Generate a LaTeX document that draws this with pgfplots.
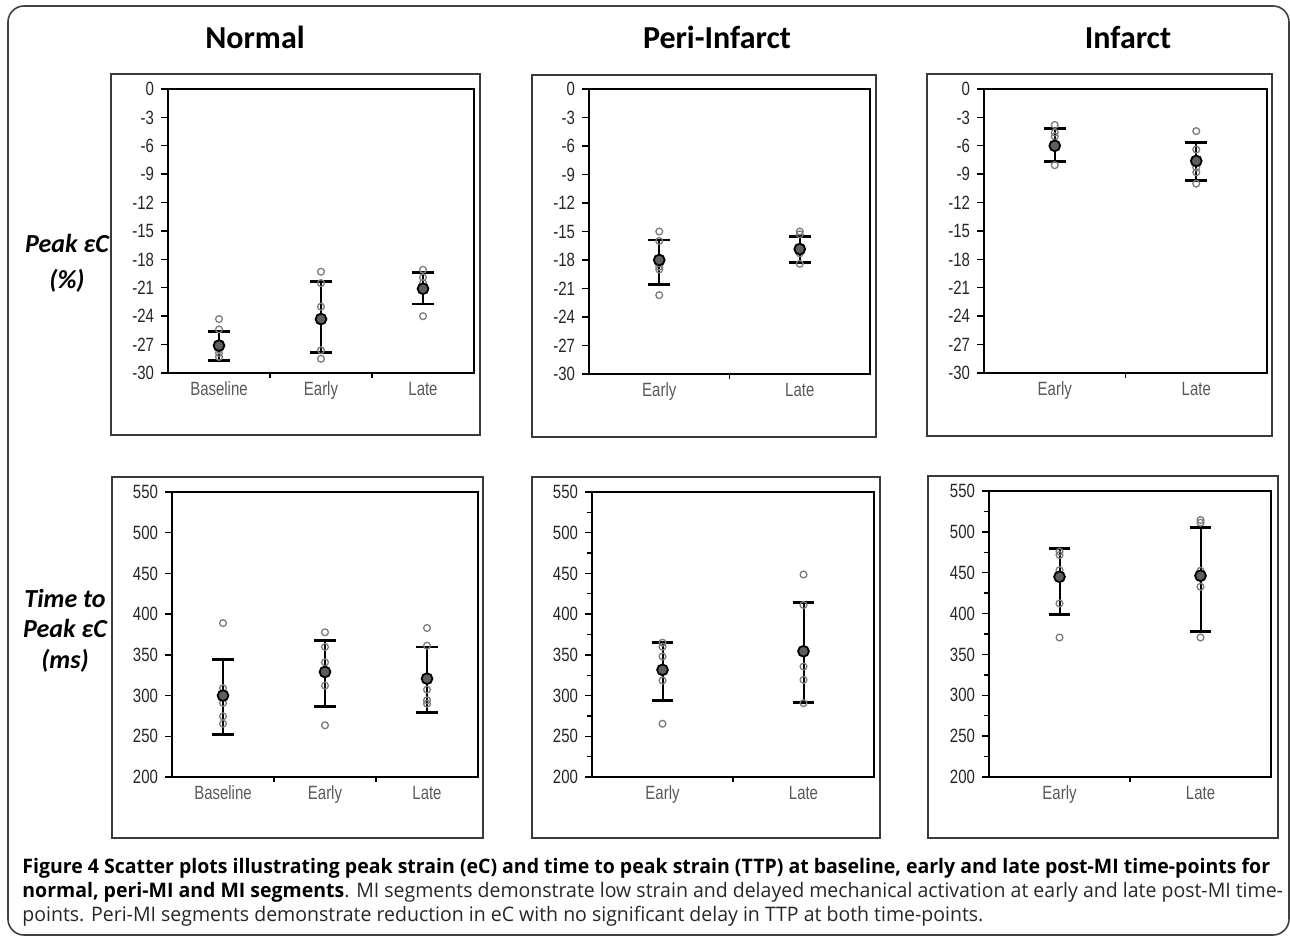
\documentclass[border=0pt]{standalone}
\usepackage{fontspec}
\usepackage{pgfplots}
\pgfplotsset{compat=1.18}
\setmainfont{Open Sans}
\newfontfamily\capfont[FakeStretch=0.975]{Open Sans}
\newfontfamily\headfont{Carlito}
\newfontfamily\tickfont[FakeStretch=0.78]{Liberation Sans}

\definecolor{meanfill}{HTML}{5E5E5E}
\definecolor{ptgray}{HTML}{7C7C7C}
\definecolor{framegray}{HTML}{3A3A3A}

\pgfplotsset{
  panel/.style={
    scale only axis, anchor=south west,
    axis line style={line width=0.75pt, black},
    tick align=outside, xtick pos=bottom, ytick pos=left,
    major tick length=3.5pt, minor tick length=2.5pt,
    tick style={black, line width=0.7pt},
    major x tick style={draw=none},
    ticklabel style={font=\tickfont\fontsize{9.6}{10}\selectfont, text=black!85},
    xticklabel style={text=black!65, yshift=2.5pt},
    /pgf/number format/assume math mode=true,
  },
  strain/.style={ymin=-30, ymax=0, ytick={-30,-27,...,0}},
  ttp/.style={ymin=200, ymax=550, ytick={200,250,...,550}},
  three/.style={xmin=-0.5, xmax=2.5, xtick={0,1,2},
    xticklabels={Baseline,Early,Late}, minor xtick={0.5,1.5}},
  two/.style={xmin=-0.5, xmax=1.5, xtick={0,1},
    xticklabels={Early,Late}, minor xtick={0.5}},
  ebar/.style={only marks, mark=none, black,
    error bars/.cd, y dir=both, y explicit,
    error bar style={line width=1pt, black},
    error mark options={rotate=90, line width=1.35pt, mark size=5.4pt, black}},
  pts/.style={only marks, mark=o, mark size=1.7pt,
    mark options={draw=ptgray, line width=0.65pt}},
  mean/.style={only marks, mark=*, mark size=2.7pt,
    mark options={fill=meanfill, draw=black, line width=0.9pt}},
}

\begin{document}
\begin{tikzpicture}[x=0.5pt, y=0.5pt]
\path[use as bounding box] (0,0) rectangle (1290,938);
\draw[black!75, line width=0.8pt, rounded corners=8pt] (8,3) rectangle (1289,932);

% panel frames
\begin{scope}[framegray, line width=0.75pt]
\draw (111,503) rectangle (480,864);
\draw (532,501) rectangle (876,863);
\draw (927,502) rectangle (1272,864);
\draw (112,100) rectangle (483,461);
\draw (532,100) rectangle (880,461);
\draw (928,100) rectangle (1278,462);
\end{scope}

% column titles
\node[anchor=base, font=\headfont\bfseries\fontsize{16}{18}\selectfont] at (255,889) {Normal};
\node[anchor=base, font=\headfont\bfseries\fontsize{16}{18}\selectfont] at (717,889) {Peri-Infarct};
\node[anchor=base, font=\headfont\bfseries\fontsize{16}{18}\selectfont] at (1128,889) {Infarct};

% row labels
\begin{scope}[every node/.style={anchor=base, font=\headfont\bfseries\itshape\fontsize{13}{15}\selectfont}]
\node at (67,685) {Peak εC};
\node at (67,649) {(\%)};
\node at (65,330) {Time to};
\node at (65,300) {Peak εC};
\node at (65,270) {(ms)};
\end{scope}

% Normal, peak strain
\begin{axis}[panel, strain, three, at={(84pt,282.5pt)}, width=153pt, height=142pt]
\addplot[ebar] coordinates {
  (0,-27.1) += (0,1.5) -= (0,1.6)
  (1,-24.3) += (0,3.95) -= (0,3.5)
  (2,-21.1) += (0,1.75) -= (0,1.6)
};
\addplot[pts] coordinates {
  (0,-24.3) (0,-25.4) (0,-27.5) (0,-27.9) (0,-28.3)
  (1,-19.3) (1,-20.5) (1,-23.0) (1,-27.6) (1,-28.5)
  (2,-19.1) (2,-19.9) (2,-20.5) (2,-24.0)
};
\addplot[mean] coordinates {(0,-27.1) (1,-24.3) (2,-21.1)};
\end{axis}

% Peri-infarct, peak strain
\begin{axis}[panel, strain, two, at={(294.5pt,282pt)}, width=140.5pt, height=142.5pt]
\addplot[ebar] coordinates {
  (0,-18.0) += (0,2.1) -= (0,2.6)
  (1,-16.85) += (0,1.3) -= (0,1.45)
};
\addplot[pts] coordinates {
  (0,-15.0) (0,-16.0) (0,-18.7) (0,-19.0) (0,-21.7)
  (1,-15.0) (1,-15.3) (1,-17.3) (1,-18.4)
};
\addplot[mean] coordinates {(0,-18.0) (1,-16.85)};
\end{axis}

% Infarct, peak strain
\begin{axis}[panel, strain, two, at={(492pt,282.5pt)}, width=141.5pt, height=142pt]
\addplot[ebar] coordinates {
  (0,-6.0) += (0,1.85) -= (0,1.65)
  (1,-7.6) += (0,1.95) -= (0,2.1)
};
\addplot[pts] coordinates {
  (0,-3.8) (0,-4.6) (0,-5.0) (0,-8.05)
  (1,-4.45) (1,-6.4) (1,-8.3) (1,-8.8) (1,-10.0)
};
\addplot[mean] coordinates {(0,-6.0) (1,-7.6)};
\end{axis}

% Normal, time to peak
\begin{axis}[panel, ttp, three, at={(86pt,80.5pt)}, width=153pt, height=142.5pt]
\addplot[ebar] coordinates {
  (0,300) += (0,44) -= (0,47.6)
  (1,329) += (0,38.8) -= (0,42.2)
  (2,320.8) += (0,38.9) -= (0,41.4)
};
\addplot[pts] coordinates {
  (0,389) (0,309) (0,291) (0,274.5) (0,265.5)
  (1,377.7) (1,359.7) (1,340.8) (1,312.2) (1,263.5)
  (2,383) (2,361.3) (2,307.3) (2,294.2) (2,290)
};
\addplot[mean] coordinates {(0,300) (1,329) (2,320.8)};
\end{axis}

% Peri-infarct, time to peak
\begin{axis}[panel, ttp, two, minor ytick={225,275,...,525}, at={(296pt,80.5pt)}, width=141pt, height=142.5pt]
\addplot[ebar] coordinates {
  (0,331.6) += (0,33.4) -= (0,37.6)
  (1,354.4) += (0,60) -= (0,62.9)
};
\addplot[pts] coordinates {
  (0,365) (0,360) (0,348) (0,318.5) (0,265.4)
  (1,448.7) (1,411.2) (1,335.6) (1,319.3) (1,290.7)
};
\addplot[mean] coordinates {(0,331.6) (1,354.4)};
\end{axis}

% Infarct, time to peak
\begin{axis}[panel, ttp, two, minor ytick={225,275,...,525}, at={(494.5pt,80.5pt)}, width=141pt, height=143pt]
\addplot[ebar] coordinates {
  (0,445) += (0,34.4) -= (0,46.1)
  (1,446.3) += (0,58.8) -= (0,68.2)
};
\addplot[pts] coordinates {
  (0,475.7) (0,471.6) (0,453.2) (0,412.4) (0,370.7)
  (1,514.5) (1,511.2) (1,452.4) (1,432.8) (1,370.7)
};
\addplot[mean] coordinates {(0,445) (1,446.3)};
\end{axis}

% caption
\begin{scope}[every node/.style={anchor=base west, inner sep=0pt, font=\capfont\fontsize{10}{12}\selectfont}]
\node at (22,65) {\bfseries Figure 4 Scatter plots illustrating peak strain (eC) and time to peak strain (TTP) at baseline, early and late post-MI time-points for};
\node[text=black!85] at (22,41) {{\bfseries\color{black} normal, peri-MI and MI segments}. MI segments demonstrate low strain and delayed mechanical activation at early and late post-MI time-};
\node[text=black!85] at (22,17) {points. Peri-MI segments demonstrate reduction in eC with no significant delay in TTP at both time-points.};
\end{scope}
\end{tikzpicture}
\end{document}
